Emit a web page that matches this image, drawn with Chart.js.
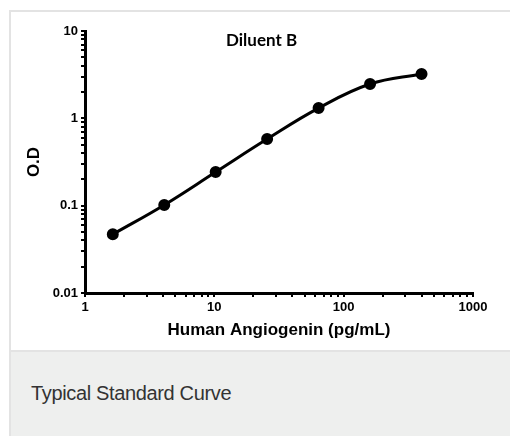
<!DOCTYPE html>
<html>
<head>
<meta charset="utf-8">
<script src="https://cdn.jsdelivr.net/npm/chart.js@4"></script>
<style>
  body { margin: 0; background: #fff; width: 510px; height: 436px; overflow: hidden; position: relative; font-family: Arial, "Liberation Sans", sans-serif; }
  .frame { position: absolute; left: 9px; top: 10px; width: 510px; height: 440px; border: 2px solid #e3e3e3; box-sizing: border-box; background: #fff; }
  .caption { position: absolute; left: 11px; top: 350px; width: 510px; height: 90px; background: #eeefee; border-top: 2px solid #e3e3e3; box-sizing: border-box; }
  .caption span { position: absolute; left: 20px; top: 31px; font-size: 20px; line-height: 20px; letter-spacing: -0.35px; color: #333; }
  .plot-title { position: absolute; left: 226px; top: 31px; font: bold 17px Lato, "Open Sans", sans-serif; line-height: 18px; color: #000; }
  canvas { position: absolute; left: 0; top: 0; }
</style>
</head>
<body>
<div class="frame"></div>
<div class="caption"><span>Typical Standard Curve</span></div>
<canvas id="chart" width="510" height="350"></canvas>
<div class="plot-title">Diluent B</div>
<script>
// standard curve readings
const concentration = [1.64, 4.1, 10.24, 25.6, 64, 160, 400];
const opticalDensity = [0.047, 0.102, 0.243, 0.58, 1.31, 2.47, 3.22];

// decades shown on the axes
const xMajorTicks = [1, 10, 100, 1000];
const yMajorTicks = [0.01, 0.1, 1, 10];

// 1..9 marks inside every decade, label only on the decades
function decadeTicks(majors) {
    const out = [];
    for (let i = 0; i < majors.length - 1; i++) {
        for (let m = 1; m <= 9; m++) out.push({ value: majors[i] * m });
    }
    out.push({ value: majors[majors.length - 1] });
    return out;
}

function axisOptions(majors) {
    return {
        type: 'logarithmic',
        min: majors[0],
        max: majors[majors.length - 1],
        afterBuildTicks: scale => { scale.ticks = decadeTicks(majors); },
        border: { display: true, color: '#000', width: 3 },
        grid: { drawOnChartArea: false, drawTicks: true, tickLength: 4, color: '#000', lineWidth: 2 },
        ticks: {
            autoSkip: false,
            maxRotation: 0,
            color: '#000',
            padding: 3,
            font: { family: 'Arial, "Liberation Sans", sans-serif', size: 13, weight: 'bold' },
            callback: value => majors.includes(value) ? String(value) : ''
        }
    };
}

const xAxis = axisOptions(xMajorTicks);
xAxis.afterFit = scale => { scale.height = 57; };
xAxis.title = {
    display: true,
    text: 'Human Angiogenin (pg/mL)',
    color: '#000',
    font: { family: 'Arial, "Liberation Sans", sans-serif', size: 17, weight: 'bold', lineHeight: 1.2 },
    padding: { top: 0, bottom: 9 }
};

const yAxis = axisOptions(yMajorTicks);
yAxis.afterFit = scale => { scale.width = 85; };
yAxis.title = {
    display: true,
    text: 'O.D',
    color: '#000',
    font: { family: 'Arial, "Liberation Sans", sans-serif', size: 17, weight: 'bold', lineHeight: 1.2 },
    padding: { top: 24, bottom: 0 }
};

new Chart(document.getElementById('chart'), {
    type: 'scatter',
    data: {
        datasets: [{
            label: 'Diluent B',
            data: concentration.map((c, i) => ({ x: c, y: opticalDensity[i] })),
            showLine: true,
            borderColor: '#000',
            backgroundColor: '#000',
            borderWidth: 3,
            pointRadius: 4.5,
            pointHoverRadius: 4.5,
            tension: 0.4
        }]
    },
    options: {
        responsive: false,
        devicePixelRatio: 1,
        animation: false,
        layout: { padding: { top: 31, right: 37, left: 0, bottom: 0 } },
        scales: { x: xAxis, y: yAxis },
        plugins: {
            legend: { display: false },
            tooltip: { enabled: false }
        }
    }
});
</script>
</body>
</html>
